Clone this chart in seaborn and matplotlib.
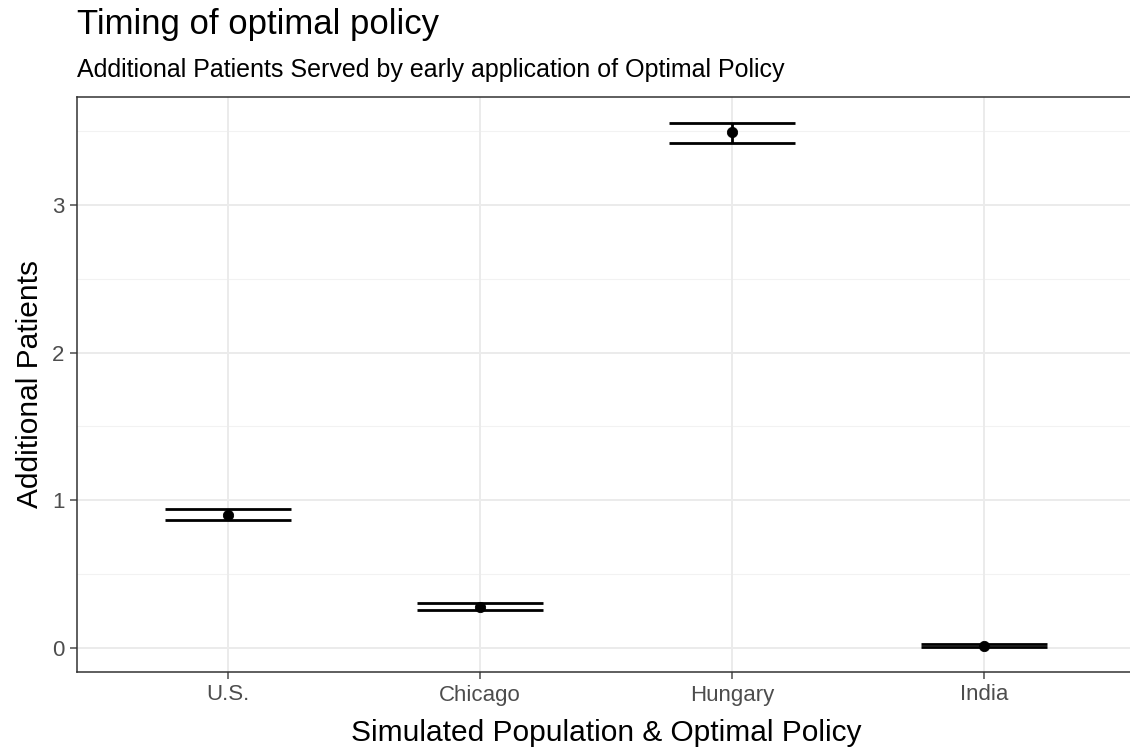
import matplotlib
matplotlib.use("Agg")
import matplotlib.pyplot as plt
import seaborn as sns
import pandas as pd
import numpy as np

categories = ["U.S.", "Chicago", "Hungary", "India"]
means = [0.90, 0.278, 3.49, 0.016]
lower = [0.866, 0.256, 3.42, 0.008]
upper = [0.940, 0.304, 3.556, 0.024]
yticks = [0, 1, 2, 3]

df = pd.DataFrame({"pop": categories, "mean": means, "lo": lower, "hi": upper})

sns.set_theme(style="white")
plt.rcParams["font.family"] = ["Liberation Sans", "DejaVu Sans"]

fig = plt.figure(figsize=(11.3, 7.48), dpi=100)
ax = fig.add_axes([77/1130, 1 - 672/748, (1135-77)/1130, (672-97)/748])

xpos = np.arange(len(categories))
ax.set_xlim(-0.6, 3.6)
ax.set_ylim(-0.163, 3.73)

# grid
for y in yticks:
    ax.axhline(y, color="#ebebeb", lw=1.4, zorder=0)
for y in np.arange(0.5, 3.6, 1.0):
    ax.axhline(y, color="#f2f2f2", lw=0.8, zorder=0)
for x in xpos:
    ax.axvline(x, color="#ebebeb", lw=1.4, zorder=0)

hw = 0.25
for i, r in df.iterrows():
    ax.hlines([r["lo"], r["hi"]], i - hw, i + hw, color="black", lw=2.0, zorder=2)
    ax.vlines(i, r["lo"], r["hi"], color="black", lw=2.0, zorder=2)

sns.scatterplot(data=df, x=xpos, y="mean", ax=ax, color="black", s=55,
                edgecolor="black", zorder=3, legend=False)

ax.set_xticks(xpos)
ax.set_xticklabels(categories)
ax.set_yticks(yticks)
ax.set_yticklabels([str(t) for t in yticks])
ax.tick_params(axis="both", colors="#4d4d4d", labelsize=16, length=5, width=1.1,
               direction="out", bottom=True, left=True, pad=4)
for lbl in ax.get_xticklabels() + ax.get_yticklabels():
    lbl.set_color("#4d4d4d")
for s in ax.spines.values():
    s.set_color("#333333")
    s.set_linewidth(1.1)

ax.set_xlabel("Simulated Population & Optimal Policy", fontsize=21.5, color="black", labelpad=10)
ax.set_ylabel("Additional Patients", fontsize=21.5, color="black", labelpad=6)

fig.text(77/1130, 1 - 34/748, "Timing of optimal policy", fontsize=25, color="black", ha="left", va="baseline")
fig.text(77/1130, 1 - 77/748, "Additional Patients Served by early application of Optimal Policy",
         fontsize=18, color="black", ha="left", va="baseline")

fig.savefig("out.png", dpi=100)
